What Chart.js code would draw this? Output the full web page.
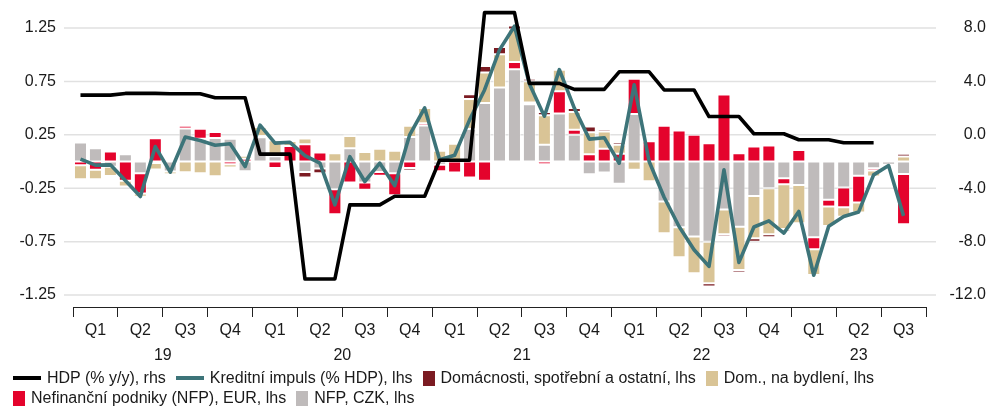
<!DOCTYPE html>
<html>
<head>
<meta charset="utf-8">
<script src="https://cdn.jsdelivr.net/npm/chart.js@4.4.0/dist/chart.umd.min.js"></script>
<style>
  html, body { margin: 0; padding: 0; background: #fff; }
  #wrap { position: relative; width: 999px; height: 406px; overflow: hidden; }
  #c { position: absolute; left: 0; top: 0; }
  #legend {
    position: absolute; left: 13px; top: 368px; width: 980px;
    display: flex; flex-wrap: wrap;
    font: 16px "Liberation Sans", Arial, sans-serif; color: #1a1a1a; line-height: 20px;
  }
  .item { display: flex; align-items: center; margin-right: 10px; white-space: nowrap; }
  .sw { display: inline-block; margin-right: 6px; }
</style>
</head>
<body>
<div id="wrap">
  <canvas id="c" width="999" height="406"></canvas>
  <div id="legend"></div>
</div>
<script>
// Monthly categories, Jan 2019 – Sep 2023
const months = [];
for (let y = 2019; y <= 2023; y++) {
  for (let m = 1; m <= 12; m++) {
    if (y === 2023 && m > 9) break;
    months.push(y + '-' + String(m).padStart(2, '0'));
  }
}
const quarterLabels = ['Q1', 'Q2', 'Q3', 'Q4'];
const yearLabels = ['19', '20', '21', '22', '23'];
const leftTicks = [-1.25, -0.75, -0.25, 0.25, 0.75, 1.25];
const rightTicks = [-12, -8, -4, 0, 4, 8];

// GDP, % y/y (quarterly, right axis)
const gdpQuarterly = [2.97, 3.1, 3.08, 2.78, -1.45, -10.8, -5.25, -4.6, -1.9,
                      9.15, 3.85, 3.4, 4.72, 3.36, 1.37, 0.08, -0.37, -0.6];

// Credit impulse, % of GDP (left axis)
const impulse = [0.022, -0.034, -0.031, -0.178, -0.328, 0.14, -0.1, 0.23, 0.197, 0.152, 0.166, -0.047,
  0.34, 0.172, 0.18, 0.055, -0.016, -0.405, 0.045, -0.187, -0.016, -0.226, 0.25, 0.502,
  0.016, 0.058, 0.39, 0.67, 1.045, 1.267, 0.725, 0.424, 0.86, 0.5, 0.21, 0.223,
  -0.016, 0.718, 0.0, -0.335, -0.608, -0.826, -0.982, -0.078, -0.944, -0.613, -0.556, -0.671,
  -0.468, -1.065, -0.605, -0.515, -0.472, -0.125, -0.038, -0.509, null];

// Contributions (left axis)
const nfpCzk = [0.178, 0.125, -0.05, 0.069, -0.11, -0.015, -0.094, 0.31, 0.213, 0.22, 0.212, -0.09,
  0.228, 0.05, 0, -0.097, -0.065, -0.26, 0.125, -0.196, -0.097, -0.11, 0.23, 0.337,
  -0.03, 0, 0.305, 0.549, 0.692, 0.863, 0.536, 0.156, 0.45, 0.25, -0.119, -0.103,
  -0.209, 0.444, 0, -0.375, -0.616, -0.703, -0.75, -0.45, -0.61, -0.322, -0.25, -0.156,
  -0.219, -0.709, -0.359, -0.244, -0.134, -0.063, -0.03, -0.116, null];

const nfpEur = [-0.034, -0.078, 0.094, -0.18, -0.19, 0.219, 0.02, 0.025, 0.094, 0.056, -0.025, 0.025,
  0.01, -0.06, 0.145, 0.162, 0.084, -0.234, -0.196, -0.068, -0.037, -0.206, -0.06, 0.022,
  -0.06, -0.103, -0.15, -0.181, -0.016, 0.069, 0.016, -0.025, 0.209, 0.047, 0.069, 0.119,
  0.072, 0.331, 0.19, 0.334, 0.29, 0.25, 0.172, 0.627, 0.078, 0.14, 0.15, -0.056,
  0.109, -0.113, -0.063, -0.184, -0.25, -0.022, -0.016, -0.472, null];

const housing = [-0.131, -0.088, -0.085, -0.053, -0.03, -0.06, -0.025, -0.1, -0.11, -0.137, -0.03, 0.03,
  0.085, 0.15, 0.047, 0.053, 0, 0.078, 0.115, 0.09, 0.12, 0.1, 0.106, 0.143,
  0.1, 0.166, 0.28, 0.284, 0.312, 0.305, 0.2, 0.277, 0.2, 0.166, 0.206, 0.162,
  0.084, -0.078, -0.185, -0.297, -0.281, -0.344, -0.39, -0.23, -0.406, -0.397, -0.43, -0.42,
  -0.359, -0.24, -0.181, -0.088, -0.094, -0.056, -0.016, 0.047, null];

const consumer = [0, 0, 0.016, 0.008, -0.005, -0.008, 0, -0.01, 0, 0, 0.016, 0,
  0.02, 0.016, -0.019, -0.053, -0.044, -0.008, 0.016, 0, 0.012, 0, -0.025, 0,
  -0.015, 0, 0.045, 0.062, 0.069, 0.037, 0.022, 0.031, 0.016, 0.037, 0.053, 0.022,
  0.025, 0.016, -0.01, 0, 0, -0.016, -0.031, -0.022, -0.022, -0.031, -0.03, -0.02,
  -0.016, -0.016, -0.005, 0, 0, 0.01, 0.016, 0.025, null];

// Quarterly GDP shown on each month of its quarter
const gdp = months.map((m, i) => {
  const q = Math.floor(i / 3);
  return q < gdpQuarterly.length ? gdpQuarterly[q] : null;
});

// Year label positions: middle of each year's months
const yearCenters = yearLabels.map(yy => {
  const idx = months.map((m, i) => m.slice(2, 4) === yy ? i : -1).filter(i => i >= 0);
  return (idx[0] + idx[idx.length - 1]) / 2;
});

const FONT = { family: '"Liberation Sans", Arial, sans-serif', size: 16 };
const TXT = '#1a1a1a';

// Horizontal gridlines reaching slightly past the plot on both sides
const hGrid = {
  id: 'hGrid',
  beforeDatasetsDraw(chart) {
    const { ctx, chartArea, scales } = chart;
    const y = scales.y;
    ctx.save();
    ctx.strokeStyle = '#e1e1e1';
    ctx.lineWidth = 1.5;
    y.ticks.forEach(t => {
      const py = y.getPixelForValue(t.value);
      ctx.beginPath();
      ctx.moveTo(chartArea.left - 9, py);
      ctx.lineTo(chartArea.right + 10, py);
      ctx.stroke();
    });
    ctx.restore();
  }
};

const barStyle = {
  type: 'bar', yAxisID: 'y', order: 2, clip: false,
  borderWidth: 1, borderColor: 'rgba(255,255,255,0.55)', borderSkipped: false,
  barPercentage: 0.87, categoryPercentage: 1.0
};

const chart = new Chart(document.getElementById('c'), {
  type: 'bar',
  data: {
    labels: months,
    datasets: [
      { type: 'line', label: 'HDP (% y/y), rhs', data: gdp, yAxisID: 'y2', order: 0, clip: false,
        borderColor: '#000000', backgroundColor: '#000000', borderWidth: 3.6,
        pointRadius: 0, pointHoverRadius: 0, tension: 0, borderJoinStyle: 'round' },
      { type: 'line', label: 'Kreditní impuls (% HDP), lhs', data: impulse, yAxisID: 'y', order: 1, clip: false,
        borderColor: '#3d7479', backgroundColor: '#3d7479', borderWidth: 3.6,
        pointRadius: 0, pointHoverRadius: 0, tension: 0, borderJoinStyle: 'round' },
      Object.assign({ label: 'NFP, CZK, lhs', data: nfpCzk, backgroundColor: '#bfbbbb' }, barStyle),
      Object.assign({ label: 'Nefinanční podniky (NFP), EUR, lhs', data: nfpEur, backgroundColor: '#e4032c' }, barStyle),
      Object.assign({ label: 'Dom., na bydlení, lhs', data: housing, backgroundColor: '#d9c496' }, barStyle),
      Object.assign({ label: 'Domácnosti, spotřební a ostatní, lhs', data: consumer, backgroundColor: '#7b1b22' }, barStyle)
    ]
  },
  options: {
    responsive: false,
    animation: false,
    events: [],
    layout: { padding: { top: 28, bottom: 38, left: 0, right: 13 } },
    plugins: { legend: { display: false }, tooltip: { enabled: false } },
    scales: {
      x: {
        type: 'category', position: 'bottom', offset: true, stacked: true,
        grid: {
          offset: true, drawOnChartArea: false, drawTicks: true, tickLength: 10, lineWidth: 1,
          color: c => (c.index === undefined || c.index % 3 === 0) ? '#222' : 'rgba(0,0,0,0)'
        },
        border: { display: true, color: '#222', width: 1 },
        ticks: {
          autoSkip: false, maxRotation: 0, minRotation: 0, padding: 4, font: FONT, color: TXT,
          callback: (v, i) => i % 3 === 1 ? quarterLabels[Math.floor(i / 3) % 4] : ''
        },
        afterFit: s => { s.height = 31; }
      },
      xYear: {
        type: 'linear', position: 'bottom', offset: false, min: -0.5, max: months.length - 0.5,
        grid: { display: false, drawTicks: false }, border: { display: false },
        afterBuildTicks: s => { s.ticks = yearCenters.map(v => ({ value: v })); },
        ticks: { autoSkip: false, maxRotation: 0, padding: 8, font: FONT, color: TXT,
          callback: (v, i) => yearLabels[i] },
        afterFit: s => { s.height = 30; }
      },
      y: {
        position: 'left', stacked: true, min: -1.362, max: 1.25,
        afterBuildTicks: s => { s.ticks = leftTicks.map(v => ({ value: v })); },
        grid: { display: false, drawTicks: false }, border: { display: false },
        ticks: { padding: 17, font: FONT, color: TXT, callback: v => v.toFixed(2) },
        afterFit: s => { s.width = 73; }
      },
      y2: {
        position: 'right', min: -12.897, max: 8,
        afterBuildTicks: s => { s.ticks = rightTicks.map(v => ({ value: v })); },
        grid: { display: false, drawTicks: false }, border: { display: false },
        ticks: { padding: 10, crossAlign: 'far', font: FONT, color: TXT, callback: v => v.toFixed(1) },
        afterFit: s => { s.width = 60; }
      }
    }
  },
  plugins: [hGrid]
});

// Legend built from the chart's own datasets
const legendOrder = [0, 1, 5, 4, 3, 2];
const legendEl = document.getElementById('legend');
legendOrder.forEach(di => {
  const ds = chart.data.datasets[di];
  const item = document.createElement('span');
  item.className = 'item';
  const sw = document.createElement('span');
  sw.className = 'sw';
  if (ds.type === 'line') {
    sw.style.width = '28px'; sw.style.height = '4px'; sw.style.background = ds.borderColor;
  } else {
    sw.style.width = '12px'; sw.style.height = '15px'; sw.style.background = ds.backgroundColor;
  }
  item.appendChild(sw);
  item.appendChild(document.createTextNode(ds.label));
  legendEl.appendChild(item);
});
</script>
</body>
</html>
